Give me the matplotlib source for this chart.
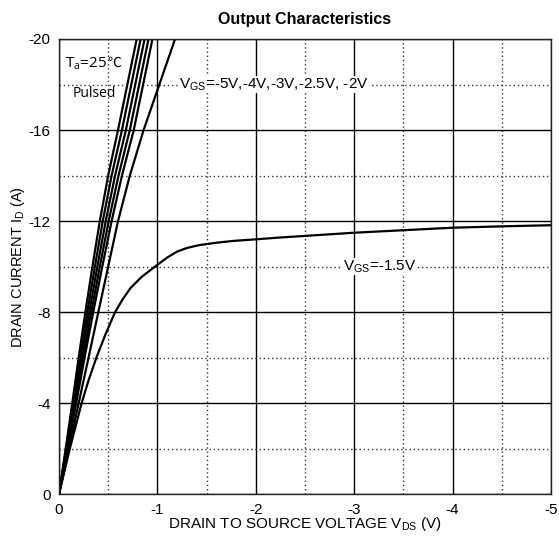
import matplotlib
matplotlib.use("Agg")
import matplotlib.pyplot as plt
from matplotlib.ticker import MultipleLocator

plt.rcParams['font.family'] = ['Liberation Sans', 'DejaVu Sans']

# Data (VDS in V, ID in A)
id_steep = [0, -2, -4, -6, -8, -10, -12, -14, -16, -18, -20]
vds_c1 = [0, -0.068, -0.135, -0.20, -0.268, -0.34, -0.415, -0.50, -0.60, -0.695, -0.79]
vds_c2 = [0, -0.073, -0.145, -0.215, -0.288, -0.365, -0.445, -0.535, -0.64, -0.735, -0.83]
vds_c3 = [0, -0.078, -0.155, -0.23, -0.308, -0.39, -0.475, -0.57, -0.68, -0.775, -0.87]
vds_c4 = [0, -0.083, -0.165, -0.245, -0.328, -0.415, -0.505, -0.605, -0.72, -0.815, -0.91]
vds_c5 = [0, -0.088, -0.175, -0.26, -0.348, -0.44, -0.535, -0.64, -0.76, -0.855, -0.95]
vds_c6 = [0, -0.10, -0.20, -0.30, -0.40, -0.50, -0.60, -0.72, -0.86, -1.02, -1.18]
steep_curves = [vds_c1, vds_c2, vds_c3, vds_c4, vds_c5, vds_c6]

vds_m15 = [0, -0.11, -0.23, -0.30, -0.38, -0.47, -0.57, -0.645, -0.725, -0.84, -0.99,
           -1.1, -1.2, -1.3, -1.43, -1.6, -1.77, -2.0, -2.25, -2.5, -3.0, -3.5,
           -4.0, -4.5, -5.0]
id_m15 = [0, -2.0, -4.0, -5.0, -6.0, -7.0, -8.0, -8.55, -9.05, -9.55, -10.05,
          -10.4, -10.66, -10.82, -10.95, -11.05, -11.13, -11.2, -11.28, -11.35, -11.49, -11.6,
          -11.71, -11.77, -11.82]

x_ticks = [0, -1, -2, -3, -4, -5]
y_ticks = [0, -4, -8, -12, -16, -20]

fig = plt.figure(figsize=(5.59, 5.43), dpi=100)
ax = fig.add_axes([0.1055, 0.0897, 0.8802, 0.8385])

ax.set_xlim(0, -5)
ax.set_ylim(0, -20)
ax.set_xticks(x_ticks)
ax.set_yticks(y_ticks)
ax.set_xticklabels([str(t) for t in x_ticks])
ax.set_yticklabels([str(t) for t in y_ticks])
ax.xaxis.set_minor_locator(MultipleLocator(0.5))
ax.yaxis.set_minor_locator(MultipleLocator(2))
ax.grid(which='major', color='black', linewidth=1.0, linestyle='-')
ax.grid(which='minor', color='#333333', linewidth=1.0, linestyle=(0, (1, 2)))
ax.tick_params(which='both', length=0, labelsize=11, pad=6)
ax.set_axisbelow(True)
for s in ax.spines.values():
    s.set_linewidth(1.0)
    s.set_color('#222222')

for c in steep_curves:
    ax.plot(c, id_steep, color='black', linewidth=1.6)
ax.plot(vds_m15, id_m15, color='black', linewidth=1.6)

ax.set_title('Output Characteristics', fontsize=11.5, fontweight='bold', pad=11)
ax.set_xlabel('DRAIN TO SOURCE VOLTAGE V$_{\\mathregular{DS}}$ (V)', fontsize=11, labelpad=-1)
ax.set_ylabel('DRAIN CURRENT I$_{\\mathregular{D}}$ (A)', fontsize=10.5, labelpad=1)

t1 = ax.text(0.012, 0.937, 'T$_{\\mathregular{a}}$=25', transform=ax.transAxes, fontsize=11,
             ha='left', va='baseline', family=['Open Sans', 'DejaVu Sans'])
ax.annotate('\u2103', xy=(1, 1), xycoords=t1, xytext=(0, 0), textcoords='offset points',
            fontsize=10, ha='left', va='top', family=['Noto Sans CJK SC', 'DejaVu Sans'])
ax.text(0.028, 0.880, 'Pulsed', transform=ax.transAxes, fontsize=10, ha='left', va='center',
        family=['Open Sans', 'DejaVu Sans'])
ax.text(-1.22, -18.0, 'V$_{\\mathregular{GS}}$=-5V,-4V,-3V,-2.5V, -2V', fontsize=11,
        ha='left', va='center', bbox=dict(facecolor='white', edgecolor='none', pad=0.3))
ax.text(-2.89, -10.0, 'V$_{\\mathregular{GS}}$=-1.5V', fontsize=11, ha='left', va='center',
        bbox=dict(facecolor='white', edgecolor='none', pad=0.3))

fig.savefig('out.png', dpi=100)
